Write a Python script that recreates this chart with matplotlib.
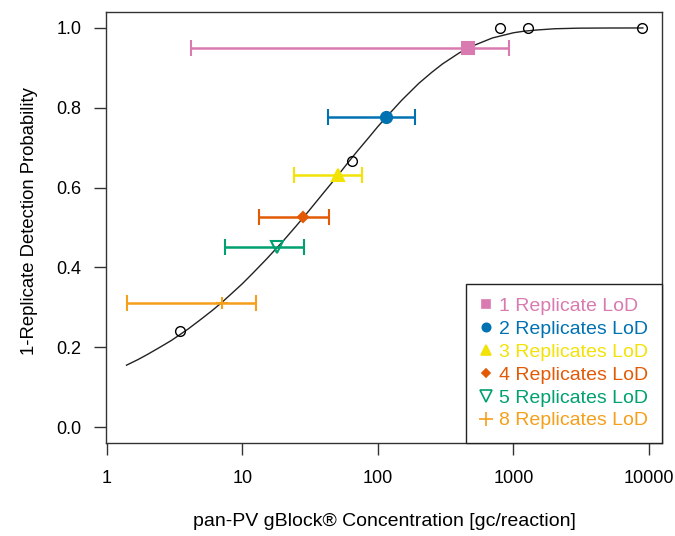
import numpy as np
import matplotlib.pyplot as plt
from matplotlib.lines import Line2D

plt.close('all')
plt.rcParams['font.family'] = ['Liberation Sans', 'DejaVu Sans']

# fitted detection curve
conc_fit = [1.4, 1.7, 2, 2.5, 3, 4, 5, 6, 7, 8.5, 10, 12, 15, 20, 25, 30, 40, 50,
            60, 70, 85, 100, 120, 150, 200, 250, 300, 400, 500, 700, 1000, 1200,
            1500, 2000, 3000, 5000, 9000]
prob_fit = [0.155, 0.169, 0.182, 0.201, 0.217, 0.246, 0.271, 0.292, 0.311, 0.337,
            0.359, 0.386, 0.420, 0.466, 0.504, 0.536, 0.588, 0.628, 0.662, 0.690,
            0.724, 0.753, 0.783, 0.819, 0.861, 0.889, 0.910, 0.938, 0.955, 0.975,
            0.988, 0.992, 0.995, 0.998, 0.9995, 0.9999, 1.0]

# observed hit rates
conc_obs = [3.47, 64.5, 790, 1290, 8900]
prob_obs = [0.24, 0.667, 1.0, 1.0, 1.0]

# LoD estimates with confidence limits
labels   = ['1 Replicate LoD', '2 Replicates LoD', '3 Replicates LoD',
            '4 Replicates LoD', '5 Replicates LoD', '8 Replicates LoD']
lod      = [462, 115, 50.5, 28.1, 18.1, 7.04]
lod_prob = [0.95, 0.776, 0.632, 0.527, 0.451, 0.312]
lod_lo   = [4.19, 42.9, 24.2, 13.3, 7.46, 1.40]
lod_hi   = [925, 187, 76.4, 43.5, 28.6, 12.6]

farger  = ['#D97AB0', '#0072B2', '#F2E205', '#E35A05', '#00A070', '#F59F1A']
markers = ['s', 'o', '^', 'D', 'v', '+']
msize   = [9, 8, 9, 5, 9, 9]
leg_ms  = [6, 6, 7, 4.5, 8, 10]

fig = plt.figure(figsize=(6.75, 5.36), dpi=100)
ax = fig.add_axes([0.157, 0.1735, 0.8237, 0.8041])

ax.plot(conc_fit, prob_fit, '-', color='#222222', lw=1.0, zorder=2)
ax.plot(conc_obs, prob_obs, 'o', mfc='none', mec='black', mew=1.0, ms=7, zorder=4)

handles = []
for i in range(len(lod)):
    xerr = np.array([[lod[i] - lod_lo[i]], [lod_hi[i] - lod[i]]])
    fill = 'none' if markers[i] == 'v' else farger[i]
    ax.errorbar([lod[i]], [lod_prob[i]], xerr=xerr, fmt=markers[i], color=farger[i],
                mfc=fill, mec=farger[i], ms=msize[i], mew=1.5,
                elinewidth=1.8, capsize=6, capthick=1.8, zorder=3)
    handles.append(Line2D([], [], ls='none', marker=markers[i], color=farger[i],
                          mfc=fill, mec=farger[i], ms=leg_ms[i], mew=1.2))

ax.set_xscale('log')
ax.set_xlim(0.988, 12450)
ax.set_ylim(-0.04, 1.04)
ax.set_xticks([1, 10, 100, 1000, 10000])
ax.set_xticklabels(['1', '10', '100', '1000', '10000'])
ax.minorticks_off()
ax.set_yticks([0.0, 0.2, 0.4, 0.6, 0.8, 1.0])
ax.set_yticklabels(['0.0', '0.2', '0.4', '0.6', '0.8', '1.0'])
ax.tick_params(axis='both', labelsize=13, length=8.5, width=1.0, color='#333333')
ax.tick_params(axis='y', pad=9)
ax.tick_params(axis='x', pad=11)
for s in ax.spines.values():
    s.set_linewidth(1.0)
    s.set_color('#333333')

ax.set_xlabel('pan-PV gBlock® Concentration [gc/reaction]', fontsize=14, labelpad=19)
ax.set_ylabel('1-Replicate Detection Probability', fontsize=13.3)
ax.yaxis.set_label_coords(-0.122, 0.515)

leg = ax.legend(handles, labels, loc='lower right', borderaxespad=0, fontsize=14,
                fancybox=False, framealpha=1, edgecolor='#222222',
                handlelength=0.6, handletextpad=0.4, labelspacing=0.27,
                borderpad=0.7)
leg.get_frame().set_linewidth(1.0)
for t, c in zip(leg.get_texts(), farger):
    t.set_color(c)

fig.savefig('out.png', dpi=100)
